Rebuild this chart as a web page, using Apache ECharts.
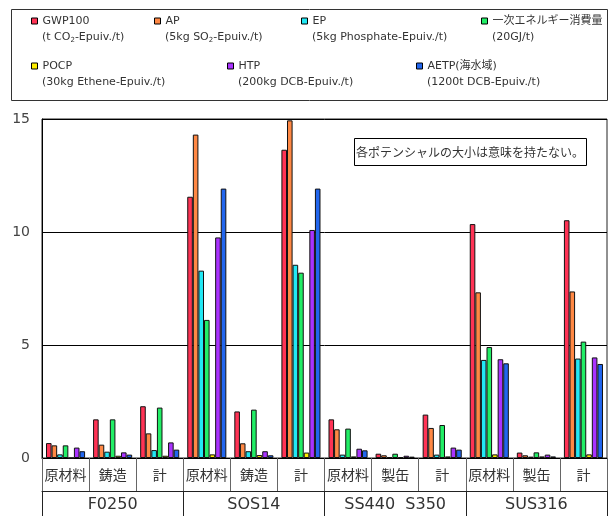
<!DOCTYPE html>
<html>
<head>
<meta charset="utf-8">
<script src="https://cdn.jsdelivr.net/npm/echarts@6/dist/echarts.min.js"></script>
<style>
  html, body { margin: 0; padding: 0; background: #fff; }
  #chart { width: 616px; height: 516px; }
</style>
</head>
<body>
<div id="chart"></div>
<script>
var subCategories = ['原材料', '鋳造', '計', '原材料', '鋳造', '計', '原材料', '製缶', '計', '原材料', '製缶', '計'];
var groupNames = ['F0250', 'SOS14', 'SS440  S350', 'SUS316'];
var seriesNames = ['GWP100', 'AP', 'EP', '一次エネルギー消費量', 'POCP', 'HTP', 'AETP(海水域)'];
var seriesUnits = [
  '(t CO{s|2}-Epuiv./t)',
  '(5kg SO{s|2}-Epuiv./t)',
  '(5kg Phosphate-Epuiv./t)',
  '(20GJ/t)',
  '(30kg Ethene-Epuiv./t)',
  '(200kg DCB-Epuiv./t)',
  '(1200t DCB-Epuiv./t)'
];
var yTicks = [0, 5, 10, 15];

var gwp100 = [0.66, 1.71, 2.29, 11.56, 2.06, 13.64, 1.71, 0.19, 1.92, 10.35, 0.24, 10.52];
var ap     = [0.56, 0.59, 1.09, 14.31, 0.65, 14.94, 1.27, 0.12, 1.33, 7.33, 0.12, 7.37];
var ep     = [0.16, 0.28, 0.35, 8.29, 0.30, 8.55, 0.15, 0.04, 0.15, 4.34, 0.06, 4.40];
var energy = [0.56, 1.71, 2.23, 6.11, 2.14, 8.20, 1.30, 0.19, 1.46, 4.91, 0.25, 5.15];
var pocp   = [0, 0.10, 0.10, 0.16, 0.13, 0.24, 0.07, 0.04, 0.07, 0.16, 0.07, 0.16];
var htp    = [0.46, 0.25, 0.69, 9.76, 0.30, 10.09, 0.41, 0.10, 0.46, 4.37, 0.15, 4.45];
var aetp   = [0.30, 0.15, 0.37, 11.92, 0.12, 11.92, 0.34, 0.06, 0.37, 4.19, 0.07, 4.16];

var seriesValues = [gwp100, ap, ep, energy, pocp, htp, aetp];
var colors = ['#ff3355', '#ff8844', '#22e8f4', '#22ee66', '#ffee00', '#aa33ff', '#2266ee'];

var FONT = '"DejaVu Sans", "Noto Sans CJK JP", sans-serif';
var CJK = '"Noto Sans CJK JP", "DejaVu Sans", sans-serif';

// legend item positions (icon left, title center y)
var legendPos = [
  [31, 21], [154, 21], [301, 21], [481, 21],
  [31, 66], [227, 66], [416, 66]
];

var legends = seriesNames.map(function (name, i) {
  return {
    data: [name],
    left: legendPos[i][0],
    top: legendPos[i][1] - 7,
    icon: 'rect',
    itemWidth: 6,
    itemHeight: 6,
    itemGap: 0,
    padding: 0,
    selectedMode: false,
    itemStyle: { borderColor: '#000', borderWidth: 1 },
    textStyle: { fontFamily: FONT, fontSize: 11, color: '#333', lineHeight: 14 }
  };
});

var graphics = [{
  type: 'rect',
  shape: { x: 11.5, y: 9.5, width: 596, height: 91 },
  style: { fill: 'none', stroke: '#333', lineWidth: 1 },
  z: 1
}, {
  type: 'rect',
  shape: { x: 354.5, y: 138.5, width: 232, height: 27 },
  style: { fill: '#fff', stroke: '#000', lineWidth: 1 },
  z: 10
}, {
  type: 'text',
  x: 470,
  y: 152,
  style: {
    text: '各ポテンシャルの大小は意味を持たない。',
    font: '12px ' + CJK,
    fill: '#333',
    align: 'center',
    verticalAlign: 'middle'
  },
  z: 11
}];

seriesUnits.forEach(function (u, i) {
  graphics.push({
    type: 'text',
    x: legendPos[i][0] + 11,
    y: legendPos[i][1] + 16.5,
    style: {
      text: u,
      font: '11px ' + FONT,
      fill: '#333',
      verticalAlign: 'middle',
      rich: {
        s: { fontSize: 7, fontFamily: FONT, fill: '#333', padding: [5, 0, 0, 0] }
      }
    }
  });
});

var series = seriesNames.map(function (name, i) {
  return {
    name: name,
    type: 'bar',
    xAxisIndex: 0,
    data: seriesValues[i],
    barGap: '0%',
    barCategoryGap: '17%',
    itemStyle: { color: colors[i], borderColor: '#111', borderWidth: 1 }
  };
});

var chart = echarts.init(document.getElementById('chart'));
chart.setOption({
  animation: false,
  backgroundColor: '#fff',
  legend: legends,
  graphic: graphics,
  grid: {
    left: 42, right: 9, top: 119, bottom: 58,
    show: true, borderColor: '#222', borderWidth: 1
  },
  xAxis: [{
    type: 'category',
    data: subCategories,
    position: 'bottom',
    axisLine: { lineStyle: { color: '#000', width: 1 } },
    axisTick: { show: true, interval: 0, length: 33, lineStyle: { color: '#666' } },
    axisLabel: { interval: 0, fontFamily: CJK, fontSize: 14, color: '#333', margin: 10 }
  }, {
    type: 'category',
    data: groupNames,
    position: 'bottom',
    offset: 33,
    axisLine: { lineStyle: { color: '#222', width: 1 } },
    axisTick: { show: true, interval: 0, length: 26, lineStyle: { color: '#222' } },
    axisLabel: { interval: 0, fontFamily: FONT, fontSize: 16, color: '#333', margin: 6 }
  }],
  yAxis: {
    type: 'value',
    min: yTicks[0],
    max: yTicks[yTicks.length - 1],
    interval: yTicks[1] - yTicks[0],
    axisLine: { show: true, lineStyle: { color: '#000' } },
    axisTick: { show: false },
    axisLabel: { fontFamily: FONT, fontSize: 14, color: '#444', margin: 12 },
    splitLine: { lineStyle: { color: '#000', width: 1 } }
  },
  series: series
});
</script>
</body>
</html>
